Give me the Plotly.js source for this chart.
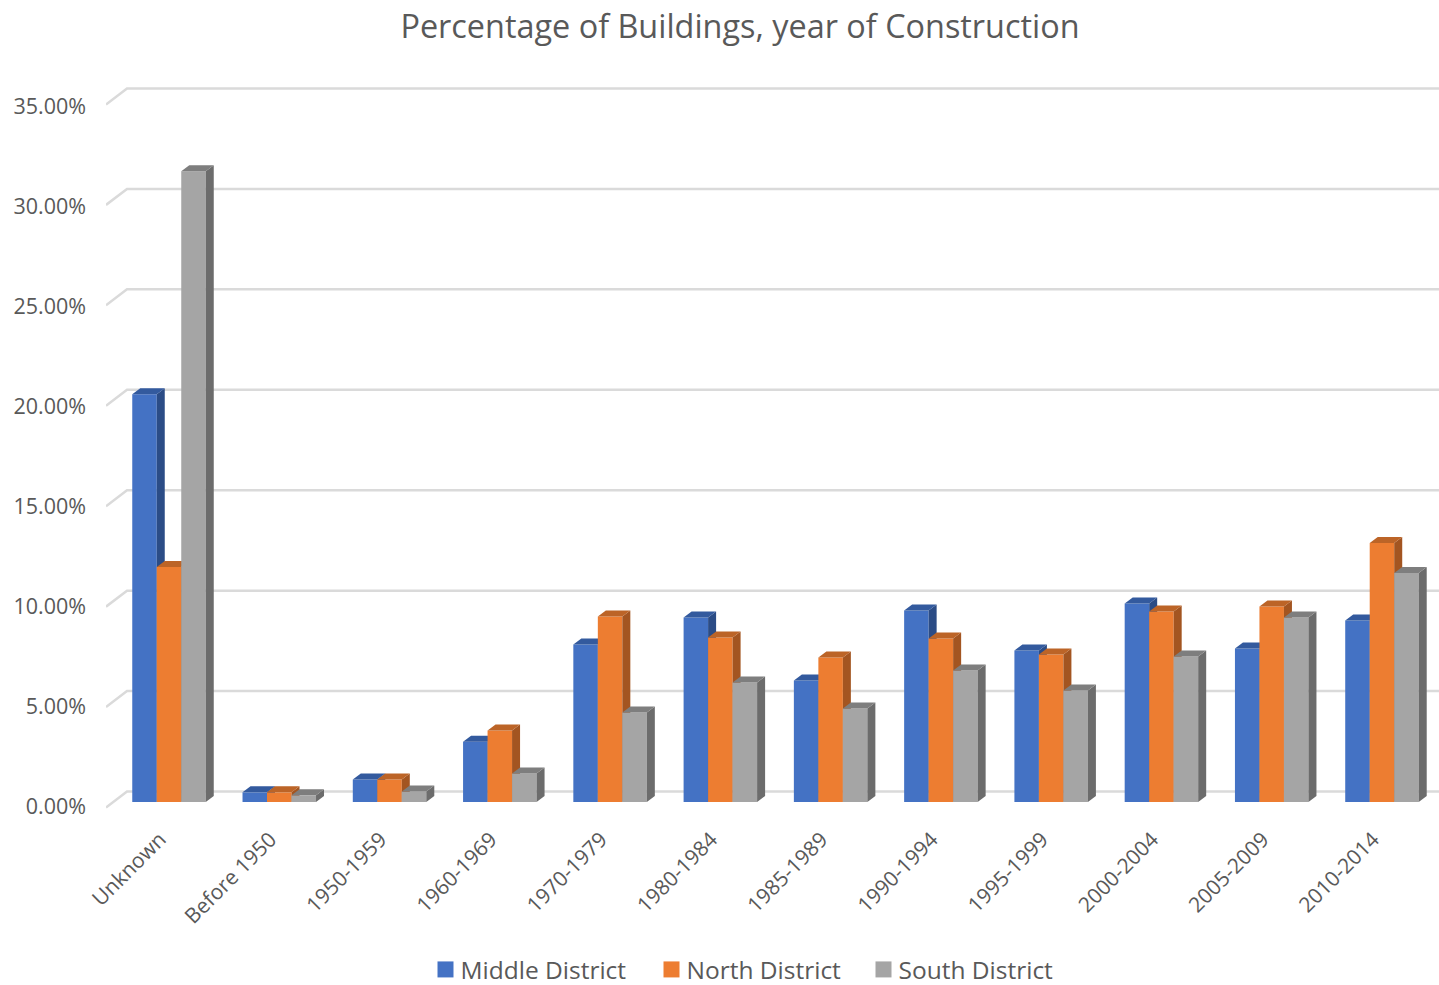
<!DOCTYPE html>
<html>
<head>
<meta charset="utf-8">
<script src="https://cdn.plot.ly/plotly-3.0.1.min.js"></script>
<style>html,body{margin:0;padding:0;background:#fff;overflow:hidden}#chart{width:1439px;height:985px}</style>
</head>
<body>
<div id="chart"></div>
<script>
const categories = ["Unknown","Before 1950","1950-1959","1960-1969","1970-1979","1980-1984","1985-1989","1990-1994","1995-1999","2000-2004","2005-2009","2010-2014"];
const middleDistrict = [20.3,0.48,1.12,3.0,7.84,9.19,6.05,9.53,7.54,9.88,7.64,9.04];
const northDistrict  = [11.7,0.48,1.12,3.56,9.24,8.19,7.19,8.14,7.34,9.48,9.73,12.9];
const southDistrict  = [31.4,0.33,0.52,1.42,4.46,5.95,4.66,6.55,5.55,7.24,9.19,11.4];
const seriesNames = ["Middle District","North District","South District"];
const gridValues = [0,5,10,15,20,25,30,35];

// geometry of the pseudo-3D projection
const W = 1439, H = 985;
const plotL = 106, plotR = 1439, plotT = 70, plotB = 818;
const pxPerCat = 110.27, firstCentre = 169;
const pxPerUnit = 20.086;
const barW = 24.5 / pxPerCat;
const depthX = 8 / pxPerCat, depthY = 6 / pxPerUnit;
const wallX = 21 / pxPerCat, wallY = 16 / pxPerUnit;
const xRange = [(plotL - firstCentre) / pxPerCat, (plotR - firstCentre) / pxPerCat];
const yRangeFor = (zeroPx, unit) => [(zeroPx - plotB) / unit, (zeroPx - plotT) / unit];

const faceColours = [
  {front:"#4472C4", top:"#335A9E", side:"#2B4C86"},
  {front:"#ED7D31", top:"#BC6427", side:"#A35521"},
  {front:"#A5A5A5", top:"#7E7E7E", side:"#6C6C6C"}
];
const legendWidths = [181, 167, 167];
const seriesValues = [middleDistrict, northDistrict, southDistrict];
const xIdx = categories.map((_, i) => i);

const traces = [];
// anchors the tick-label axis so that it is drawn
traces.push({type:"scatter", mode:"none", x:[null], y:[null], xaxis:"x", yaxis:"y", showlegend:false, hoverinfo:"skip"});
// back wall gridlines with their diagonal floor/wall ticks
const gx = [], gy = [];
const wallLeft = xRange[0] + wallX;
gridValues.forEach(v => {
  gx.push(xRange[0], wallLeft, xRange[1], null);
  gy.push(v - wallY, v, v, null);
});
traces.push({type:"scatter", mode:"lines", x:gx, y:gy, xaxis:"x", yaxis:"y2",
  line:{color:"#DADADA", width:2.5}, showlegend:false, hoverinfo:"skip"});

seriesValues.forEach((vals, s) => {
  const ya = "y" + (s + 3);
  const off = (s - 1.5) * barW;
  const tx = [], ty = [], sx = [], sy = [];
  vals.forEach((v, i) => {
    const l = i + off, r = l + barW;
    tx.push(l, r, r + depthX, l + depthX, l, null);
    ty.push(v, v, v + depthY, v + depthY, v, null);
    sx.push(r, r + depthX, r + depthX, r, r, null);
    sy.push(0, depthY, v + depthY, v, 0, null);
  });
  traces.push({type:"bar", x:xIdx, y:vals, width:barW, offset:off, name:seriesNames[s],
    xaxis:"x", yaxis:ya, marker:{color:faceColours[s].front, line:{width:0}}, showlegend:false,
    hovertemplate:"%{y:.2f}%<extra>"+seriesNames[s]+"</extra>"});
  traces.push({type:"scatter", mode:"lines", x:sx, y:sy, xaxis:"x", yaxis:ya, fill:"toself",
    fillcolor:faceColours[s].side, line:{width:0}, showlegend:false, hoverinfo:"skip"});
  traces.push({type:"scatter", mode:"lines", x:tx, y:ty, xaxis:"x", yaxis:ya, fill:"toself",
    fillcolor:faceColours[s].top, line:{width:0}, showlegend:false, hoverinfo:"skip"});
  // legend key
  traces.push({type:"scatter", mode:"markers", x:[null], y:[null], xaxis:"x", yaxis:ya, name:seriesNames[s],
    legendwidth:legendWidths[s],
    marker:{symbol:"square", size:16, color:faceColours[s].front}, showlegend:true, hoverinfo:"skip"});
});

const textCol = "#595959";
const family = "'Open Sans','Noto Sans',sans-serif";
const hiddenY = (zeroPx) => ({overlaying:"y", range:yRangeFor(zeroPx, pxPerUnit), visible:false, fixedrange:true});
const layout = {
  width:W, height:H, paper_bgcolor:"#fff", plot_bgcolor:"rgba(0,0,0,0)",
  margin:{l:plotL, r:W-plotR, t:plotT, b:H-plotB, pad:0},
  font:{family:family, color:textCol},
  title:{text:"Percentage of Buildings, year of Construction", x:740/W, xanchor:"center", y:1-27/H, yanchor:"middle",
         font:{size:32.4, color:textCol, family:family}},
  showlegend:true,
  legend:{orientation:"h", xref:"container", yref:"container", x:745.5/W, xanchor:"center", y:1-969.5/H, yanchor:"middle",
          font:{size:24.5, color:textCol}, itemsizing:"trace", traceorder:"normal", itemclick:false, itemdoubleclick:false},
  xaxis:{type:"linear", range:xRange, tickmode:"array", tickvals:xIdx, ticktext:categories,
         tickangle:-45, showgrid:false, zeroline:false, showline:false, ticks:"",
         tickfont:{size:21, color:textCol}, fixedrange:true, ticklabelstandoff:4, ticklabelshift:-9},
  yaxis:{range:[(806-plotB)/20,(806-plotT)/20], tickmode:"linear", tick0:0, dtick:5, tickformat:".2f", ticksuffix:"%",
         showgrid:false, zeroline:false, showline:false, ticks:"", tickfont:{size:21.5, color:textCol},
         ticklabelstandoff:19, fixedrange:true},
  yaxis2:hiddenY(791.5),
  yaxis3:hiddenY(802),
  yaxis4:hiddenY(802),
  yaxis5:hiddenY(802)
};
Plotly.newPlot("chart", traces, layout, {displayModeBar:false, responsive:false}).then(gd => {
  // legend keys sit closer to their labels in the reference
  gd.querySelectorAll(".legendpoints .scatterpts").forEach(p => {
    p.setAttribute("transform", "translate(25,0)");
  });
  // the legend box runs past the page bottom; its text does not, so it needs no clip
  gd.querySelectorAll(".legend [clip-path], .legend .scrollbox").forEach(n => n.removeAttribute("clip-path"));
  gd.querySelectorAll(".legend .scrollbar").forEach(n => n.remove());
});
</script>
</body>
</html>
